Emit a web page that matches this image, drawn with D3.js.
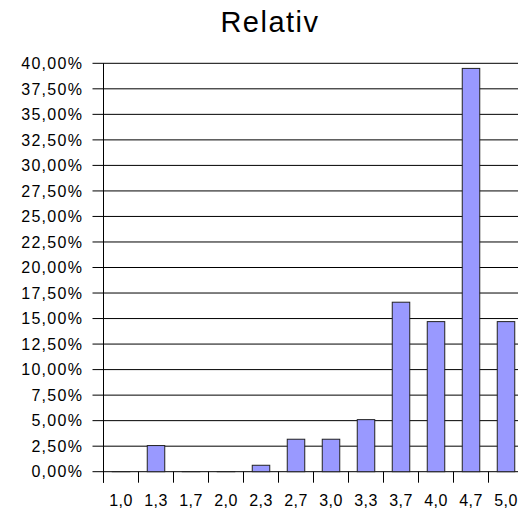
<!DOCTYPE html>
<html>
<head>
<meta charset="utf-8">
<script src="https://cdn.jsdelivr.net/npm/d3@7"></script>
<style>
  html, body { margin: 0; padding: 0; background: #fff; }
  svg { display: block; font-family: "Liberation Sans", Arial, Helvetica, sans-serif; }
</style>
</head>
<body>
<svg id="chart" width="518" height="515"></svg>
<script>
const title = "Relativ";
const categories = ["1,0", "1,3", "1,7", "2,0", "2,3", "2,7", "3,0", "3,3", "3,7", "4,0", "4,7", "5,0"];
const values = [0, 2.56, 0, 0, 0.63, 3.18, 3.18, 5.10, 16.6, 14.7, 39.5, 14.7];
const yTicks = [0, 2.5, 5, 7.5, 10, 12.5, 15, 17.5, 20, 22.5, 25, 27.5, 30, 32.5, 35, 37.5, 40];

const svg = d3.select("#chart");
const plotLeft = 103.5, plotRight = 523.5, plotTop = 63.3, plotBottom = 471.7;

const x = d3.scaleBand().domain(categories).range([plotLeft, plotRight]).paddingInner(0).paddingOuter(0);
const y = d3.scaleLinear().domain([0, 40]).range([plotBottom, plotTop]);

const fmt = v => v.toFixed(2).replace(".", ",") + "%";

// title
svg.append("text")
  .attr("x", 270).attr("y", 32)
  .attr("text-anchor", "middle")
  .attr("font-size", 29)
  .attr("letter-spacing", 1.5)
  .attr("fill", "#000")
  .text(title);

// gridlines + y tick marks
const g = svg.append("g");
g.selectAll("line.grid").data(yTicks).join("line")
  .attr("class", "grid")
  .attr("x1", plotLeft - 11).attr("x2", 518)
  .attr("y1", d => y(d)).attr("y2", d => y(d))
  .attr("stroke", "#000").attr("stroke-width", 1);

// y labels
g.selectAll("text.ylab").data(yTicks).join("text")
  .attr("class", "ylab")
  .attr("x", 83.3).attr("y", d => y(d))
  .attr("dy", "0.36em")
  .attr("text-anchor", "end")
  .attr("font-size", 16)
  .attr("letter-spacing", 1.3)
  .attr("fill", "#000")
  .text(fmt);

// bars
svg.append("g").selectAll("rect").data(values).join("rect")
  .attr("x", (d, i) => x(categories[i]) + x.bandwidth() / 4)
  .attr("width", x.bandwidth() / 2)
  .attr("y", d => y(d))
  .attr("height", d => Math.max(0.01, y(0) - y(d)))
  .attr("fill", "#9999ff")
  .attr("stroke", "#222")
  .attr("stroke-width", 1);

// x axis
const xAxis = d3.axisBottom(x).tickSize(0).tickFormat(d => d);
const xa = svg.append("g").attr("transform", `translate(0,${plotBottom})`).call(xAxis);
xa.select(".domain").remove();
xa.selectAll("text").attr("font-size", 16).attr("fill", "#000").attr("y", 34.5).attr("dy", 0)
  .attr("letter-spacing", 0.5)
  .attr("font-family", "Liberation Sans, Arial, sans-serif");

// x tick marks at band boundaries
svg.append("g").selectAll("line").data(categories).join("line")
  .attr("x1", d => x(d)).attr("x2", d => x(d))
  .attr("y1", plotBottom).attr("y2", plotBottom + 11)
  .attr("stroke", "#000");

// y axis line
svg.append("line")
  .attr("x1", plotLeft).attr("x2", plotLeft)
  .attr("y1", plotTop).attr("y2", plotBottom + 11)
  .attr("stroke", "#000");
</script>
</body>
</html>
